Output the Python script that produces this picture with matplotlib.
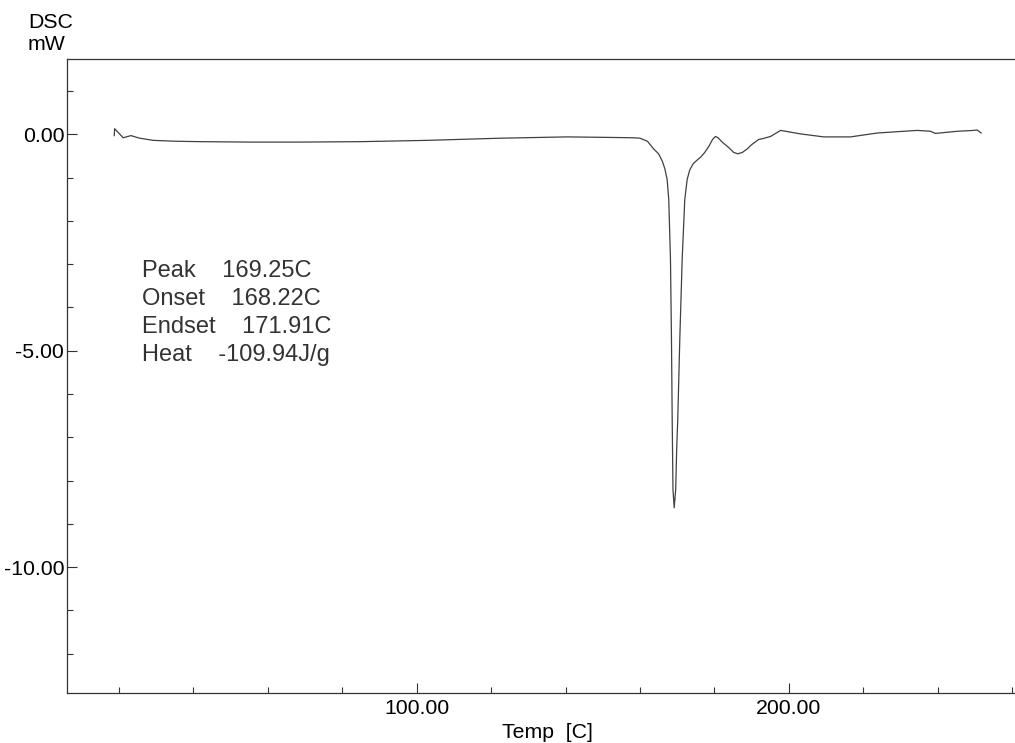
import numpy as np
import matplotlib
matplotlib.use('Agg')
import matplotlib.pyplot as plt
from matplotlib.ticker import FixedLocator, MultipleLocator

plt.rcParams['font.family'] = ['Liberation Sans', 'DejaVu Sans']

# DSC heating curve (temperature in C, heat flow in mW)
temp = [18.7, 18.8, 21.1, 23.2, 25.5, 29.2, 35.0, 41.8, 55.0, 68.7, 85.0,
        102.8, 122.5, 140.4, 150.0, 158.3, 160.0, 162.0, 163.7, 165.0, 166.0,
        166.7, 167.3, 167.74, 168.2, 168.47, 168.66, 168.87, 169.2, 169.6,
        169.87, 170.16, 170.7, 171.34, 172.04, 172.69, 173.4, 174.3, 175.3,
        176.3, 177.4, 178.5, 179.5, 180.3, 181.0, 182.1, 183.9, 185.2, 186.3,
        187.5, 188.8, 190.0, 191.9, 193.0, 195.1, 197.8, 203.1, 209.4, 216.6,
        223.8, 234.5, 238.1, 239.4, 245.3, 249.7, 250.6, 251.7]
heat_flow = [-0.03, 0.13, -0.08, -0.03, -0.09, -0.14, -0.16, -0.17, -0.18,
             -0.18, -0.17, -0.14, -0.09, -0.06, -0.07, -0.08, -0.09, -0.16,
             -0.34, -0.45, -0.62, -0.80, -1.04, -1.51, -2.90, -4.75, -6.58,
             -8.21, -8.63, -8.21, -7.27, -6.58, -4.75, -2.90, -1.51, -1.04,
             -0.82, -0.68, -0.60, -0.53, -0.42, -0.28, -0.12, -0.05, -0.08,
             -0.18, -0.31, -0.42, -0.45, -0.42, -0.34, -0.24, -0.12, -0.10,
             -0.05, 0.09, 0.01, -0.06, -0.06, 0.03, 0.09, 0.07, 0.02, 0.07,
             0.09, 0.10, 0.03]

x_major = [100, 200]
x_major_labels = ['100.00', '200.00']
y_major = [0, -5, -10]
y_major_labels = ['0.00', '-5.00', '-10.00']

results = ['Peak    169.25C',
           'Onset    168.22C',
           'Endset    171.91C',
           'Heat    -109.94J/g']

fig = plt.figure(figsize=(10.15, 7.43), dpi=100)
ax = fig.add_axes([67 / 1015, 1 - 693 / 743, 1 - 67 / 1015, (693 - 59) / 743])

ax.plot(temp, heat_flow, color='#404040', linewidth=0.9)

ax.set_xlim(6.0, 260.8)
ax.set_ylim(-12.91, 1.74)

ax.xaxis.set_major_locator(FixedLocator(x_major))
ax.set_xticklabels(x_major_labels)
ax.xaxis.set_minor_locator(MultipleLocator(20))
ax.yaxis.set_major_locator(FixedLocator(y_major))
ax.set_yticklabels(y_major_labels)
ax.yaxis.set_minor_locator(MultipleLocator(1))

ax.tick_params(which='both', direction='in', colors='#333333', width=0.8,
               labelcolor='black', labelsize=15.3)
ax.tick_params(which='major', length=7)
ax.tick_params(which='minor', length=4)
ax.tick_params(axis='y', pad=2)
ax.tick_params(axis='x', pad=4)

for side in ['left', 'bottom', 'top']:
    ax.spines[side].set_color('#333333')
    ax.spines[side].set_linewidth(0.9)
ax.spines['right'].set_visible(False)

ax.set_xlabel('Temp  [C]', fontsize=15.3)
ax.xaxis.set_label_coords(0.507, -0.048, transform=ax.transAxes)
ax.xaxis.label.set_verticalalignment('top')

fig.text(28 / 1015, 1 - 13 / 743, 'DSC\nmW', fontsize=15.3, ha='left',
         va='top', linespacing=1.2)

ax.text(0.0795, 0.683, '\n'.join(results), transform=ax.transAxes,
        fontsize=17, color='#333333', ha='left', va='top', linespacing=1.36)

fig.savefig('out.png', dpi=100)
